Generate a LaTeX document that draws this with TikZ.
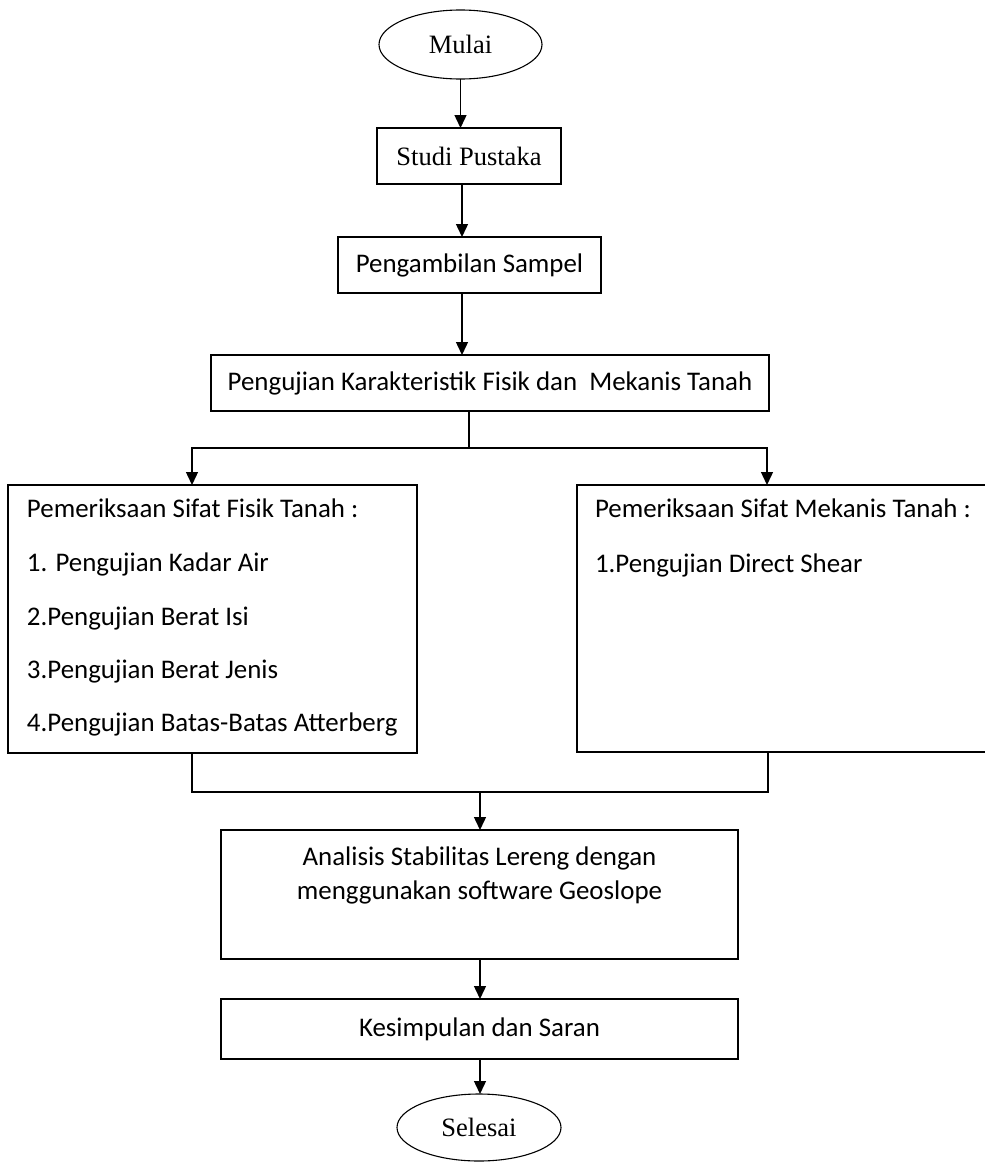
\documentclass[tikz,border=0pt]{standalone}
\usepackage{fontspec}
\setmainfont{Liberation Serif}
\newfontfamily\calfont{Carlito}
\usetikzlibrary{shapes.geometric,arrows.meta}
\begin{document}
\begin{tikzpicture}[x=1pt,y=-1pt,
  every node/.style={inner sep=0pt, outer sep=0pt},
  box/.style={draw=black, line width=1.4pt, rectangle},
  oval/.style={draw=black, line width=1.1pt, ellipse, font=\fontsize{26.5}{32}\selectfont},
  serifbox/.style={box, font=\fontsize{26.5}{32}\selectfont},
  sansbox/.style={box, font=\calfont\fontsize{26.9}{32}\selectfont},
  lbl/.style={font=\calfont\fontsize{26.9}{32}\selectfont},
  conn/.style={line width=1.4pt, line cap=rect},
  arr/.style={line width=1.4pt, -{Triangle[length=13pt,width=12pt]}}
]
\useasboundingbox (0,0) rectangle (985,1162);

% nodes
\node[oval, minimum width=163pt, minimum height=69pt] (mulai) at (460.5,44.5) {Mulai};
\node[serifbox, minimum width=184pt, minimum height=56pt] (studi) at (469,156) {Studi Pustaka};
\node[sansbox, minimum width=263pt, minimum height=56pt] (sampel) at (469.5,265) {Pengambilan Sampel};
\node[sansbox, minimum width=558pt, minimum height=56pt] (uji) at (490,383) {Pengujian Karakteristik Fisik dan\hspace{0.45em}Mekanis Tanah};

\node[box, minimum width=409pt, minimum height=268pt] (fisik) at (212.5,619) {};
\node[lbl, anchor=base west] (f0) at (27,517) {Pemeriksaan Sifat Fisik Tanah :};
\node[lbl, anchor=base west] (f1) at (27,571) {1. Pengujian Kadar Air};
\node[lbl, anchor=base west] (f2) at (27,625) {2.Pengujian Berat Isi};
\node[lbl, anchor=base west] (f3) at (27,678) {3.Pengujian Berat Jenis};
\node[lbl, anchor=base west] (f4) at (27,731) {4.Pengujian Batas-Batas Atterberg};

\node[box, minimum width=413pt, minimum height=267pt] (mekanis) at (783.5,618.5) {};
\node[lbl, anchor=base west] (m0) at (595,517) {Pemeriksaan Sifat Mekanis Tanah :};
\node[lbl, anchor=base west] (m1) at (595,572) {1.Pengujian Direct Shear};

\node[box, minimum width=517pt, minimum height=129pt] (analisis) at (479.5,894.5) {};
\node[lbl, anchor=base] (a1) at (479.5,865) {Analisis Stabilitas Lereng dengan};
\node[lbl, anchor=base] (a2) at (479.5,899) {menggunakan software Geoslope};

\node[sansbox, minimum width=517pt, minimum height=60pt] (simpul) at (479.5,1029) {Kesimpulan dan Saran};
\node[oval, minimum width=164pt, minimum height=67pt] (selesai) at (479,1127.5) {Selesai};

% connectors
\coordinate (c1) at (462,0);
\draw[arr] (mulai.south) -- (mulai.south |- studi.north);
\draw[arr] (studi.south -| c1) -- (sampel.north -| c1);
\draw[arr] (sampel.south -| c1) -- (uji.north -| c1);

\coordinate (split) at (469,448);
\coordinate (la) at (192,448);
\coordinate (ra) at (767,448);
\draw[conn] (uji.south -| split) -- (split);
\draw[conn] (la) -- (ra);
\draw[arr] (la) -- (la |- fisik.north);
\draw[arr] (ra) -- (ra |- mekanis.north);

\coordinate (lm) at (192,792);
\coordinate (rm) at (768,792);
\coordinate (mm) at (480,792);
\draw[conn] (fisik.south -| lm) -- (lm) -- (rm) -- (mekanis.south -| rm);
\draw[arr] (mm) -- (mm |- analisis.north);
\draw[arr] (analisis.south -| mm) -- (simpul.north -| mm);
\draw[arr] (simpul.south -| mm) -- (mm |- selesai.north);
\end{tikzpicture}
\end{document}
